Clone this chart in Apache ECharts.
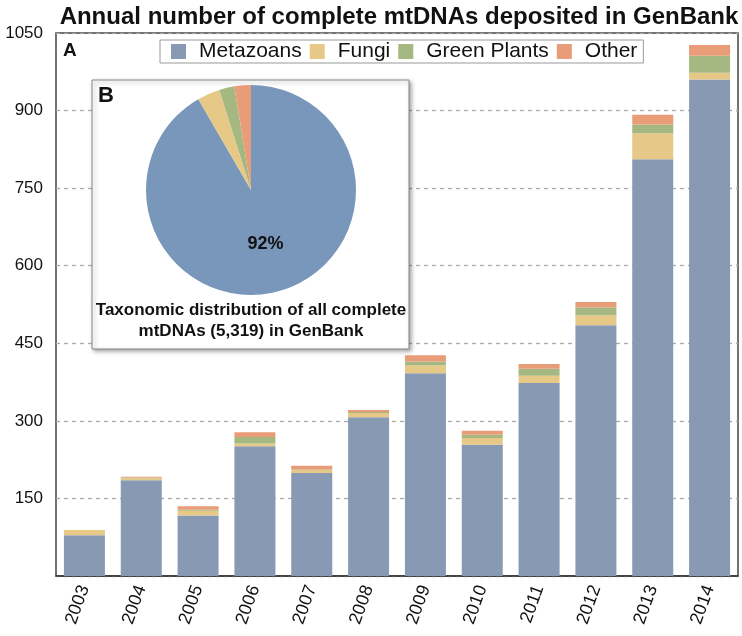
<!DOCTYPE html>
<html>
<head>
<meta charset="utf-8">
<script src="https://cdn.jsdelivr.net/npm/echarts@6/dist/echarts.min.js"></script>
<style>
html,body{margin:0;padding:0;background:#fff;}
#c{width:742px;height:636px;}
</style>
</head>
<body>
<div id="c"></div>
<script>
const years = ['2003','2004','2005','2006','2007','2008','2009','2010','2011','2012','2013','2014'];
const metazoans   = [79, 185, 117, 251, 199, 307, 392, 254, 373, 485, 806, 960];
const fungi       = [10,   4,   9,   5,   6,   8,  15,  13,  14,  19,  50,  13];
const greenPlants = [ 0,   1,   2,  13,   1,   2,   8,   6,  14,  15,  17,  33];
const other       = [ 0,   2,   7,   9,   7,   4,  12,   8,   9,  11,  19,  21];
const yTicks = [0, 150, 300, 450, 600, 750, 900, 1050];

const pieNames  = ['Metazoans', 'Fungi', 'Green Plants', 'Other'];
const pieValues = [4874, 185, 125, 135];

const barColors = ['#8799b3', '#e6c987', '#a5b881', '#e99c78'];
const pieColors = ['#7996bb', '#e6c987', '#a5b881', '#e99c78'];
const font = '"Liberation Sans", Arial, sans-serif';

const chart = echarts.init(document.getElementById('c'), null, {renderer: 'canvas'});
const seriesData = [metazoans, fungi, greenPlants, other];
const barSeries = pieNames.map((n, i) => ({
  name: n, type: 'bar', stack: 'total', barWidth: 41,
  data: seriesData[i],
  itemStyle: {color: barColors[i]},
  emphasis: {disabled: true}
}));

chart.setOption({
  animation: false,
  backgroundColor: '#fff',
  title: {
    text: 'Annual number of complete mtDNAs deposited in GenBank',
    left: 394, textAlign: 'center', top: 0,
    textStyle: {fontFamily: font, fontWeight: 'bold', fontSize: 24, color: '#111'}
  },
  legend: {
    data: pieNames, left: 160, top: 40, icon: 'rect',
    itemWidth: 15, itemHeight: 15, itemGap: 8,
    borderColor: '#999', borderWidth: 1, padding: [1, 6, 1, 11],
    backgroundColor: '#fff',
    textStyle: {fontFamily: font, fontSize: 21, lineHeight: 20, color: '#111', padding: [0, 0, 0, 8]}
  },
  grid: {left: 56, right: 4, top: 33, bottom: 60, show: true, borderColor: '#444', borderWidth: 1.5, backgroundColor: 'transparent'},
  xAxis: {
    type: 'category', data: years,
    axisLine: {lineStyle: {color: '#333', width: 1.5}},
    axisTick: {show: false},
    axisLabel: {rotate: 70, fontFamily: font, fontSize: 18, color: '#111', margin: 10}
  },
  yAxis: {
    type: 'value', min: yTicks[0], max: yTicks[yTicks.length - 1], interval: 150,
    axisLine: {show: false}, axisTick: {show: false},
    axisLabel: {fontFamily: font, fontSize: 17, color: '#111', margin: 13,
      formatter: v => (v === 0 ? '' : String(v))},
    splitLine: {lineStyle: {color: '#aaa', type: [4, 4], width: 1.3}}
  },
  graphic: [
    {type: 'text', left: 63, top: 41, z: 100,
      style: {text: 'A', font: 'bold 19px ' + font, fill: '#111'}},
    {type: 'rect', shape: {x: 92, y: 80, width: 317, height: 269}, z: 100,
      style: {fill: '#fff', stroke: '#888', lineWidth: 1, shadowBlur: 4, shadowOffsetX: 2, shadowOffsetY: 2, shadowColor: 'rgba(0,0,0,0.35)'}},
    {type: 'text', left: 98, top: 85, z: 102,
      style: {text: 'B', font: 'bold 22px ' + font, fill: '#111'}},
    {type: 'text', x: 251, y: 300, z: 102,
      style: {text: 'Taxonomic distribution of all complete\nmtDNAs (5,319) in GenBank', font: 'bold 17px ' + font,
        fill: '#111', align: 'center', lineHeight: 21}}
  ],
  series: barSeries.concat([{
    type: 'pie', name: 'all', z: 101, zlevel: 0,
    center: [251, 190], radius: 105, startAngle: 90, clockwise: true,
    data: pieNames.map((n, i) => ({name: n, value: pieValues[i], itemStyle: {color: pieColors[i]}})),
    label: {show: true, position: 'inside', fontFamily: font, fontWeight: 'bold', fontSize: 18, color: '#111',
      formatter: p => (p.dataIndex === 0 ? Math.round(p.percent) + '%' : '')},
    labelLine: {show: false},
    emphasis: {disabled: true},
    silent: true
  }])
});
</script>
</body>
</html>
